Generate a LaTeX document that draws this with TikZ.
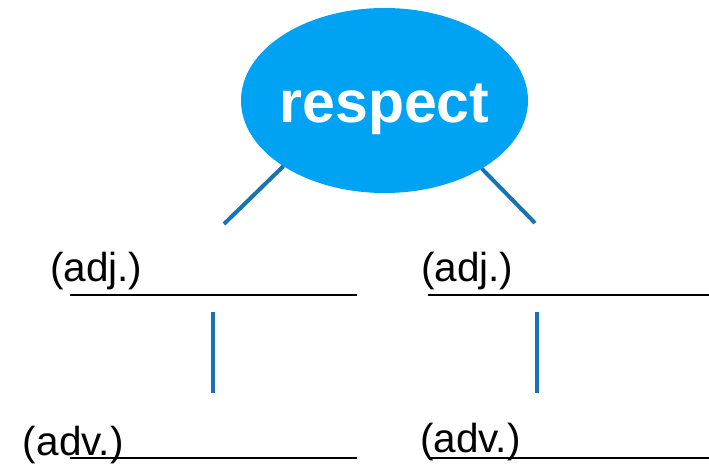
\documentclass[tikz,border=0pt]{standalone}
\usepackage{fontspec}
\setmainfont{Liberation Sans}
\usetikzlibrary{shapes.geometric}
\definecolor{bubble}{HTML}{00A3F4}
\definecolor{stem}{HTML}{1673B4}
\tikzset{
  wordtag/.style={anchor=base west, inner sep=0pt, outer sep=0pt,
    font=\fontsize{40.5}{40.5}\selectfont},
  stemline/.style={draw=stem, line width=4.5pt},
  baseline/.style={draw=black, line width=2pt}
}
\begin{document}
\begin{tikzpicture}[y=1pt, x=1pt, yscale=-1, inner sep=0pt, outer sep=0pt]
\useasboundingbox (0,0) rectangle (709,470);
\path[fill=bubble] (384.5,100.5) node[ellipse, fill=bubble, minimum width=287pt,
  minimum height=185pt] (respect) {};
\path (384.5,123) node[anchor=base, text=white,
  font=\fontsize{59}{59}\selectfont\bfseries] (respecttext) {respect};
% branch ends
\coordinate (leftend) at (224,224);
\coordinate (rightend) at (535,223);
\path[stemline,line width=4pt] (respect.213) -- (leftend);
\path[stemline,line width=4pt] (respect.325) -- (rightend);
% labels
\path (50,281) node[wordtag] (adjleft) {(adj.)};
\path (421,281) node[wordtag] (adjright) {(adj.)};
\path (23,455) node[wordtag] (advleft) {(adv.)};
\path (420,452) node[wordtag] (advright) {(adv.)};
% underlines
\path[baseline] (70,294.5) -- (357,294.5);
\path[baseline] (428,294.5) -- (709,294.5);
\path[baseline] (70,458) -- (357,458);
\path[baseline] (428,458) -- (709,458);
% stems
\coordinate (lefttop) at (213,312);
\coordinate (leftbot) at (213,393);
\coordinate (righttop) at (537,312);
\coordinate (rightbot) at (537,393);
\path[stemline] (lefttop) -- (leftbot);
\path[stemline] (righttop) -- (rightbot);
\end{tikzpicture}
\end{document}
